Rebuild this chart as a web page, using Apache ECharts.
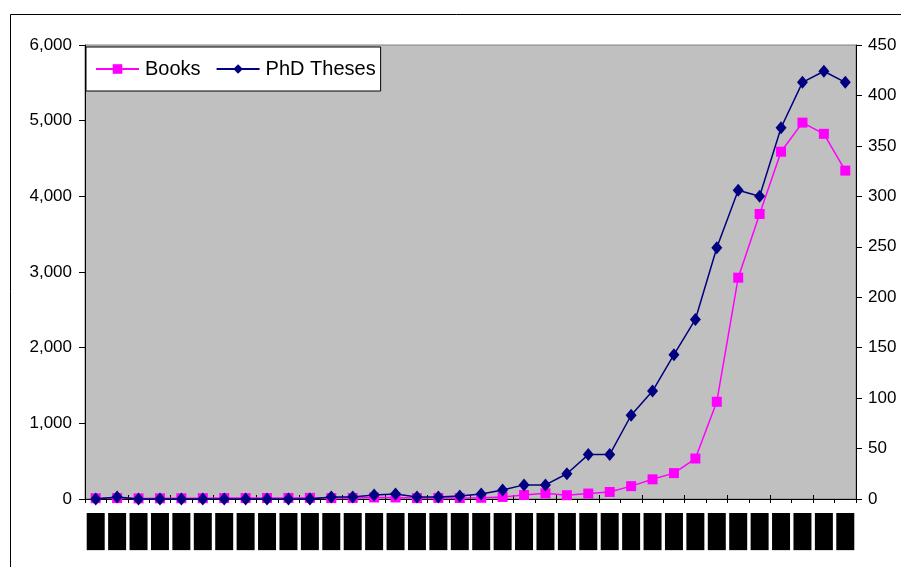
<!DOCTYPE html>
<html><head><meta charset="utf-8">
<script src="https://cdn.jsdelivr.net/npm/echarts@6/dist/echarts.min.js"></script>
<style>html,body{margin:0;padding:0;background:#fff}#c{width:901px;height:567px}</style>
</head><body><div id="c"></div>
<script>
const years = ['1970','1971','1972','1973','1974','1975','1976','1977','1978','1979','1980','1981','1982','1983','1984','1985','1986','1987','1988','1989','1990','1991','1992','1993','1994','1995','1996','1997','1998','1999','2000','2001','2002','2003','2004','2005'];
const books = [10,12,8,9,10,11,12,12,13,14,15,12,14,20,20,12,14,13,16,27,52,75,50,72,93,170,260,342,535,1285,2925,3767,4590,4974,4826,4340];
const theses = [0,2,0,0,0,0,0,0,0,0,0,2,2,4,5,2,2,3,5,9,14,14,25,44,44,83,107,143,178,249,306,300,368,413,424,413];
const leftTicks = [0,1000,2000,3000,4000,5000,6000];
const rightTicks = [0,50,100,150,200,250,300,350,400,450];

const FONT = "'Liberation Sans', Arial, sans-serif";
const chart = echarts.init(document.getElementById('c'), null, {renderer:'canvas'});
chart.setOption({
  animation:false,
  backgroundColor:'#fff',
  textStyle:{fontFamily:FONT},
  graphic:[{type:'rect',shape:{x:10.5,y:14.5,width:900,height:570},style:{fill:'none',stroke:'#000',lineWidth:1},z:-1}],
  grid:{left:85,right:45,top:45,bottom:68,show:true,backgroundColor:'#C0C0C0',borderColor:'#808080',borderWidth:1},
  legend:{left:86,top:47,padding:[12,5,12,9],itemWidth:43,itemHeight:12,itemGap:15,
    backgroundColor:'#fff',borderColor:'#000',borderWidth:1,
    textStyle:{fontSize:20,color:'#000',fontFamily:FONT,padding:[0,0,0,1]},
    data:['Books','PhD Theses']},
  xAxis:[{type:'category',data:years,boundaryGap:true,
    axisLine:{lineStyle:{color:'#000',width:1}},
    axisTick:{show:true,length:4,inside:false,lineStyle:{color:'#000'}},
    axisLabel:{rotate:90,interval:0,margin:14,fontSize:14,color:'#000',backgroundColor:'#000',padding:[2,3],fontFamily:FONT}},
   {type:'category',data:years,boundaryGap:true,position:'bottom',
    axisLine:{show:false},
    axisTick:{show:true,length:4,inside:true,lineStyle:{color:'#000'}},
    axisLabel:{show:false}}],
  yAxis:[{type:'value',min:0,max:leftTicks[leftTicks.length-1],interval:1000,position:'left',
    axisLine:{show:true,lineStyle:{color:'#000'}},
    axisTick:{show:true,length:6,lineStyle:{color:'#000'}},
    splitLine:{show:false},
    axisLabel:{margin:13,fontSize:17,color:'#000',fontFamily:FONT,
      formatter:v=>v.toLocaleString('en-US')}},
   {type:'value',min:0,max:rightTicks[rightTicks.length-1],interval:50,position:'right',
    axisLine:{show:true,lineStyle:{color:'#000'}},
    axisTick:{show:true,length:6,lineStyle:{color:'#000'}},
    splitLine:{show:false},
    axisLabel:{margin:12,fontSize:17,color:'#000',fontFamily:FONT}}],
  series:[
   {name:'Books',type:'line',yAxisIndex:0,data:books,symbol:'rect',symbolSize:10,
    lineStyle:{color:'#FF00FF',width:1.5},itemStyle:{color:'#FF00FF'},z:2},
   {name:'PhD Theses',type:'line',yAxisIndex:1,data:theses,symbol:'diamond',symbolSize:[11,13],
    lineStyle:{color:'#000080',width:1.5},itemStyle:{color:'#000080'},z:3}
  ]
});
</script></body></html>
